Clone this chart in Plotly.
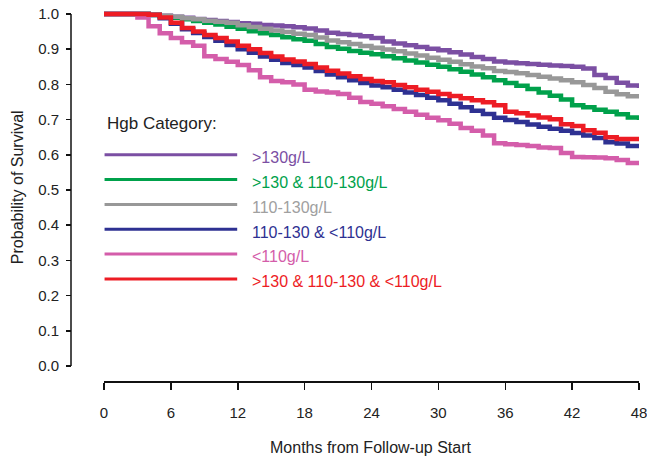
import plotly.graph_objects as go

months = list(range(0, 49))

surv_gt130 = [1, 1, 1, 1, 0.998, 0.995, 0.992, 0.989, 0.986, 0.983, 0.98, 0.977, 0.974,
              0.972, 0.969, 0.967, 0.965, 0.962, 0.959, 0.953, 0.947, 0.943, 0.94, 0.937,
              0.932, 0.922, 0.916, 0.911, 0.906, 0.901, 0.897, 0.891, 0.885, 0.878, 0.872,
              0.865, 0.862, 0.86, 0.858, 0.856, 0.854, 0.852, 0.85, 0.845, 0.827, 0.818,
              0.805, 0.797, 0.79]
surv_gt130_110_130 = [1, 1, 1, 1, 0.997, 0.993, 0.989, 0.985, 0.98, 0.975, 0.97, 0.964, 0.958,
                      0.951, 0.945, 0.94, 0.934, 0.928, 0.924, 0.915, 0.906, 0.901, 0.895, 0.89,
                      0.886, 0.88, 0.874, 0.868, 0.862, 0.856, 0.85, 0.843, 0.836, 0.828, 0.82,
                      0.812, 0.804, 0.796, 0.787, 0.777, 0.768, 0.757, 0.741, 0.735, 0.728,
                      0.722, 0.715, 0.706, 0.699]
surv_110_130 = [1, 1, 1, 1, 0.998, 0.995, 0.992, 0.988, 0.985, 0.981, 0.978, 0.975, 0.968,
                0.963, 0.958, 0.953, 0.949, 0.944, 0.94, 0.933, 0.925, 0.92, 0.915, 0.909,
                0.904, 0.899, 0.894, 0.888, 0.882, 0.876, 0.87, 0.864, 0.857, 0.851, 0.846,
                0.838, 0.835, 0.832, 0.827, 0.822, 0.817, 0.812, 0.806, 0.798, 0.79, 0.779,
                0.772, 0.766, 0.764]
surv_110_130_lt110 = [1, 1, 1, 1, 0.997, 0.988, 0.972, 0.957, 0.946, 0.935, 0.924, 0.912, 0.9,
                      0.89, 0.879, 0.87, 0.861, 0.855, 0.848, 0.838, 0.828, 0.82, 0.812, 0.804,
                      0.797, 0.792, 0.785, 0.777, 0.77, 0.762, 0.755, 0.745, 0.735, 0.725, 0.716,
                      0.705, 0.699, 0.693, 0.686, 0.68, 0.674, 0.668, 0.662, 0.655, 0.648,
                      0.636, 0.632, 0.625, 0.619]
surv_lt110 = [1, 1, 1, 0.99, 0.965, 0.945, 0.932, 0.92, 0.91, 0.88, 0.872, 0.864, 0.855,
              0.84, 0.82, 0.81, 0.806, 0.8, 0.785, 0.78, 0.777, 0.773, 0.762, 0.75, 0.745,
              0.738, 0.73, 0.722, 0.714, 0.705, 0.698, 0.688, 0.676, 0.668, 0.655, 0.633,
              0.63, 0.628, 0.625, 0.621, 0.619, 0.605, 0.594, 0.593, 0.592, 0.59, 0.585,
              0.577, 0.571]
surv_all3 = [1, 1, 1, 1, 0.998, 0.99, 0.975, 0.96, 0.95, 0.94, 0.932, 0.922, 0.91, 0.9,
             0.889, 0.879, 0.871, 0.865, 0.858, 0.848, 0.839, 0.831, 0.823, 0.815, 0.81,
             0.806, 0.798, 0.792, 0.785, 0.779, 0.773, 0.767, 0.761, 0.755, 0.749, 0.741,
             0.722, 0.718, 0.712, 0.706, 0.701, 0.687, 0.682, 0.67, 0.663, 0.65, 0.645,
             0.645, 0.645]

series_names = [">130g/L", ">130 & 110-130g/L", "110-130g/L", "110-130 & <110g/L",
                "<110g/L", ">130 & 110-130 & <110g/L"]
series_values = [surv_gt130, surv_gt130_110_130, surv_110_130, surv_110_130_lt110,
                 surv_lt110, surv_all3]
line_colors = ["#7B4FA3", "#00A14B", "#989898", "#2E3192", "#D45DAA", "#ED1C24"]
text_colors = ["#7B4FA3", "#00A14B", "#A0A0A0", "#2E3192", "#D45DAA", "#ED1C24"]

x_ticks = [0, 6, 12, 18, 24, 30, 36, 42, 48]
y_ticks = [0.0, 0.1, 0.2, 0.3, 0.4, 0.5, 0.6, 0.7, 0.8, 0.9, 1.0]
y_tick_labels = ["0.0", "0.1", "0.2", "0.3", "0.4", "0.5", "0.6", "0.7", "0.8", "0.9", "1.0"]

FONT = "Liberation Sans, Arial, Helvetica, sans-serif"

fig = go.Figure()
for name, vals, col in zip(series_names, series_values, line_colors):
    fig.add_trace(go.Scatter(x=months, y=vals, mode="lines", name=name,
                             line=dict(color=col, width=4.5, shape="hv"),
                             showlegend=False, hoverinfo="skip"))

# manual legend (drawn in data coordinates like R's legend())
leg_y0 = 0.60
leg_dy = 0.0705
for i, (name, lc, tc) in enumerate(zip(series_names, line_colors, text_colors)):
    y = leg_y0 - i * leg_dy
    fig.add_shape(type="line", xref="x", yref="y", x0=0.05, x1=11.95, y0=y, y1=y,
                  line=dict(color=lc, width=3))
    fig.add_annotation(x=13.1, y=y - 0.008, xref="x", yref="y", text=name,
                       showarrow=False, xanchor="left", yanchor="middle",
                       font=dict(family=FONT, size=16, color=tc))
fig.add_annotation(x=0.05, y=0.69, xref="x", yref="y", text="Hgb Category:",
                   showarrow=False, xanchor="left", yanchor="middle",
                   font=dict(family=FONT, size=17, color="#222222"))

# y axis line (only from 0 to 1, like R)
fig.add_shape(type="line", xref="paper", yref="y", x0=0, x1=0, y0=0, y1=1,
              line=dict(color="#111111", width=1.5))

fig.add_annotation(x=0.529, y=-0.180, xref="paper", yref="paper",
                   text="Months from Follow-up Start", showarrow=False,
                   xanchor="center", yanchor="middle",
                   font=dict(family=FONT, size=16, color="#222222"))
fig.add_annotation(x=-0.094, y=0.52, xref="paper", yref="paper",
                   text="Probability of Survival", showarrow=False, textangle=-90,
                   xanchor="center", yanchor="middle",
                   font=dict(family=FONT, size=16, color="#222222"))

fig.update_layout(
    width=647, height=456,
    margin=dict(l=71, r=8, t=9, b=75, autoexpand=False),
    paper_bgcolor="white", plot_bgcolor="white",
    xaxis=dict(domain=[0.0581, 1.0], range=[0, 48], anchor="free", position=0,
               tickmode="array", tickvals=x_ticks, ticktext=[str(t) for t in x_ticks],
               ticks="outside", ticklen=7, tickwidth=1.5, tickcolor="#111111",
               showline=True, linecolor="#111111", linewidth=1.5,
               showgrid=False, zeroline=False, ticklabelstandoff=10,
               ticklabeloverflow="allow", automargin=False,
               tickfont=dict(family=FONT, size=15, color="#222222")),
    yaxis=dict(domain=[0.0403, 1.0], range=[0, 1.0142], anchor="free", position=0,
               tickmode="array", tickvals=y_ticks, ticktext=y_tick_labels,
               ticks="outside", ticklen=5, tickwidth=1.5, tickcolor="#111111",
               showline=False, showgrid=False, zeroline=False, ticklabelstandoff=4,
               ticklabeloverflow="allow", automargin=False,
               tickfont=dict(family=FONT, size=15, color="#222222")),
)

# remove the default 8px page margin so the figure fills the window exactly
fig.write_html("out.html",
               config={"displayModeBar": False, "staticPlot": True},
               post_script="document.body.style.margin='0px';"
                           "document.body.style.overflow='hidden';")
